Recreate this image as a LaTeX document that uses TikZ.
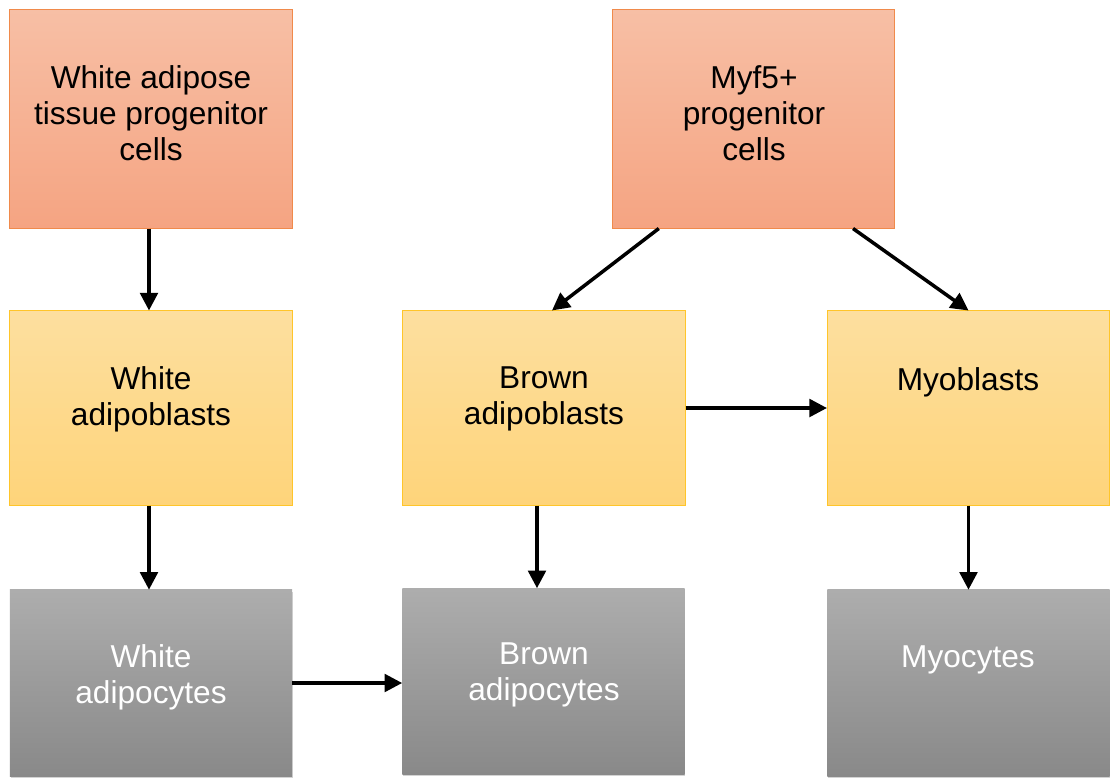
\documentclass[tikz,border=0pt]{standalone}
\usepackage{fontspec}
\setmainfont{Liberation Sans}
\usetikzlibrary{arrows.meta,shadows}
\definecolor{salmontop}{HTML}{F7BFA5}
\definecolor{salmonbot}{HTML}{F5A482}
\definecolor{salmonline}{HTML}{F08A4B}
\definecolor{yellowtop}{HTML}{FDDF9F}
\definecolor{yellowbot}{HTML}{FED47A}
\definecolor{yellowline}{HTML}{FFC52A}
\definecolor{graytop}{HTML}{ADADAD}
\definecolor{graybot}{HTML}{898989}
\begin{document}
\begin{tikzpicture}[x=0.025cm,y=-0.025cm,
    box/.style={rectangle,minimum width=7.05cm,inner sep=0pt},
    progbox/.style={box,minimum height=5.45cm,top color=salmontop,bottom color=salmonbot,draw=salmonline,line width=0.7pt},
    blastbox/.style={box,minimum height=4.85cm,top color=yellowtop,bottom color=yellowbot,draw=yellowline,line width=0.7pt},
    cytebox/.style={box,minimum height=4.65cm,top color=graytop,bottom color=graybot,drop shadow={opacity=0.35,shadow xshift=0.6pt,shadow yshift=-1.2pt}},
    txt/.style={align=center,font=\fontsize{22.5}{25.5}\selectfont},
    arr/.style={-{Triangle[length=12.5pt,width=12.5pt]},line width=2.5pt}]
    \useasboundingbox (0,0) rectangle (1113,778);
    % progenitors
    \node[progbox] (wat) at (151,119) {};
    \node[progbox] (myf) at (753.5,119) {};
    \node[txt] (wattxt) at (151,113) {White adipose\\tissue progenitor\\cells};
    \node[txt] (myftxt) at (754,113) {Myf5+\\progenitor\\cells};
    % blasts
    \node[blastbox] (wab) at (151,408) {};
    \node[blastbox] (bab) at (544,408) {};
    \node[blastbox] (myb) at (968.5,408) {};
    \node[txt] (wabtxt) at (151,399) {White\\adipoblasts};
    \node[txt] (babtxt) at (544,399) {Brown\\adipoblasts};
    \node[txt] (mybtxt) at (968,382) {Myoblasts};
    % mature cells
    \node[cytebox] (wac) at (151,683) {};
    \node[cytebox] (bac) at (543.5,681.5) {};
    \node[cytebox] (myc) at (968.5,683) {};
    \node[txt,white] (wactxt) at (151,677) {White\\adipocytes};
    \node[txt,white] (bactxt) at (544,675) {Brown\\adipocytes};
    \node[txt,white] (myctxt) at (968,660) {Myocytes};
    % arrows
    \coordinate (wabout) at ([xshift=-0.05cm]wab.south);
    \coordinate (babout) at ([xshift=-0.175cm]bab.south);
    \draw[arr] ([xshift=-0.05cm]wat.south) -- ([xshift=-0.05cm]wab.north);
    \draw[arr] ([xshift=1.17cm]myf.south west) -- ([xshift=0.2cm]bab.north);
    \draw[arr] ([xshift=-1.05cm]myf.south east) -- (myb.north);
    \draw[arr] (bab.east) -- (myb.west);
    \draw[arr] (wabout) -- (wabout |- wac.north);
    \draw[arr] (babout) -- (babout |- bac.north);
    \draw[arr] (myb.south) -- (myc.north);
    \draw[arr] (wac.east) -- (bac.west |- wac.east);
\end{tikzpicture}
\end{document}
